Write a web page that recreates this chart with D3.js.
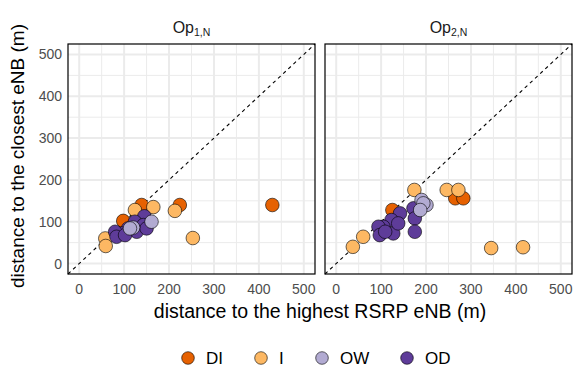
<!DOCTYPE html>
<html>
<head>
<meta charset="utf-8">
<script src="https://cdn.jsdelivr.net/npm/d3@7"></script>
<style>
  body { margin: 0; background: #fff; }
  text { font-family: "Liberation Sans", Arial, sans-serif; }
</style>
</head>
<body>
<div id="chart"></div>
<script>
// categories and colours
var categories = ["DI", "I", "OW", "OD"];
var colours = ["#E66101", "#FDB863", "#B2ABD2", "#5E3C99"];
var panels = ["1,N", "2,N"];
var ticks = [0, 100, 200, 300, 400, 500];

// [highest RSRP distance, closest distance, category] per panel
var op1Points = [
  [430, 140, "DI"], [224, 140, "DI"], [139, 140, "DI"], [98, 102, "DI"],
  [253, 61, "I"], [213, 126, "I"], [165, 135, "I"], [124, 128, "I"], [58, 60, "I"], [59, 42, "I"],
  [145, 113, "OD"], [124, 100, "OD"], [109, 84, "OD"], [94, 72, "OD"], [80, 76, "OD"],
  [83, 64, "OD"], [143, 92, "OD"], [128, 76, "OD"], [150, 84, "OD"], [102, 68, "OD"],
  [161, 100, "OW"], [120, 86, "OW"], [113, 84, "OW"]
];
var op2Points = [
  [125, 128, "DI"], [265, 156, "DI"], [283, 156, "DI"],
  [37, 40, "I"], [60, 64, "I"], [174, 176, "I"], [246, 176, "I"], [272, 176, "I"], [345, 37, "I"], [416, 39, "I"],
  [142, 120, "OD"], [123, 104, "OD"], [105, 88, "OD"], [94, 88, "OD"], [97, 68, "OD"],
  [127, 72, "OD"], [138, 96, "OD"], [109, 76, "OD"], [172, 132, "OD"], [175, 108, "OD"], [175, 76, "OD"],
  [190, 152, "OW"], [201, 140, "OW"], [194, 144, "OW"], [187, 128, "OW"]
];

var width = 581, height = 388;
var svg = d3.select("#chart").append("svg")
    .attr("width", width)
    .attr("height", height);

var colour = d3.scaleOrdinal().domain(categories).range(colours);
var y = d3.scaleLinear().domain([-25, 525]).range([274, 44]);
var panelLeft = [68, 325], panelWidth = 247;
var datasets = [op1Points, op2Points];

panels.forEach(function(p, k) {
  var x = d3.scaleLinear().domain([-25, 525]).range([panelLeft[k], panelLeft[k] + panelWidth]);
  var g = svg.append("g");

  // minor grid
  var minor = [50, 150, 250, 350, 450];
  g.selectAll(".vminor").data(minor).enter().append("line")
    .attr("x1", d => x(d)).attr("x2", d => x(d))
    .attr("y1", y(-25)).attr("y2", y(525))
    .attr("stroke", "#ebebeb").attr("stroke-width", 1);
  g.selectAll(".hminor").data(minor).enter().append("line")
    .attr("y1", d => y(d)).attr("y2", d => y(d))
    .attr("x1", x(-25)).attr("x2", x(525))
    .attr("stroke", "#ebebeb").attr("stroke-width", 1);
  // major grid
  g.selectAll(".vmajor").data(ticks).enter().append("line")
    .attr("x1", d => x(d)).attr("x2", d => x(d))
    .attr("y1", y(-25)).attr("y2", y(525))
    .attr("stroke", "#ebebeb").attr("stroke-width", 2);
  g.selectAll(".hmajor").data(ticks).enter().append("line")
    .attr("y1", d => y(d)).attr("y2", d => y(d))
    .attr("x1", x(-25)).attr("x2", x(525))
    .attr("stroke", "#ebebeb").attr("stroke-width", 2);

  // y = x line
  g.append("line")
    .attr("x1", x(-25)).attr("y1", y(-25))
    .attr("x2", x(525)).attr("y2", y(525))
    .attr("stroke", "#000").attr("stroke-width", 1.1)
    .attr("stroke-dasharray", "3.5,3.5");

  // points
  g.selectAll("circle").data(datasets[k]).enter().append("circle")
    .attr("cx", d => x(d[0]))
    .attr("cy", d => y(d[1]))
    .attr("r", 6.8)
    .attr("fill", d => colour(d[2]))
    .attr("stroke", "#000").attr("stroke-width", 0.6);

  // border
  g.append("rect")
    .attr("x", x(-25)).attr("y", y(525))
    .attr("width", panelWidth).attr("height", y(-25) - y(525))
    .attr("fill", "none").attr("stroke", "#000").attr("stroke-width", 1.2);

  // x tick labels
  g.selectAll(".xt").data(ticks).enter().append("text")
    .attr("x", d => x(d)).attr("y", 294)
    .attr("text-anchor", "middle")
    .style("font-size", "14px").style("fill", "#4d4d4d")
    .text(d => d);

  // strip title
  var t = g.append("text")
    .attr("x", panelLeft[k] + panelWidth / 2).attr("y", 33)
    .attr("text-anchor", "middle")
    .style("font-size", "16px").style("fill", "#1a1a1a");
  t.append("tspan").text("Op");
  t.append("tspan").attr("dy", 3).style("font-size", "10.5px").text(p);
});

// y tick labels
svg.selectAll(".yt").data(ticks).enter().append("text")
  .attr("x", 62).attr("y", d => y(d) + 5)
  .attr("text-anchor", "end")
  .style("font-size", "14px").style("fill", "#4d4d4d")
  .text(d => d);

// axis titles
svg.append("text")
  .attr("x", 320).attr("y", 318)
  .attr("text-anchor", "middle")
  .style("font-size", "19.5px").style("fill", "#000")
  .text("distance to the highest RSRP eNB (m)");
svg.append("text")
  .attr("transform", "translate(24,156) rotate(-90)")
  .attr("text-anchor", "middle")
  .style("font-size", "19px").style("fill", "#000")
  .text("distance to the closest eNB (m)");

// legend
var legendX = [188, 261, 322, 407];
var lg = svg.selectAll(".lg").data(categories).enter().append("g")
  .attr("transform", (d, i) => "translate(" + legendX[i] + ",358)");
lg.append("circle")
  .attr("r", 6.3)
  .attr("fill", d => colour(d))
  .attr("stroke", "#000").attr("stroke-width", 0.6);
lg.append("text")
  .attr("x", 18).attr("y", 6)
  .style("font-size", "17px").style("fill", "#000")
  .text(d => d);
</script>
</body>
</html>
